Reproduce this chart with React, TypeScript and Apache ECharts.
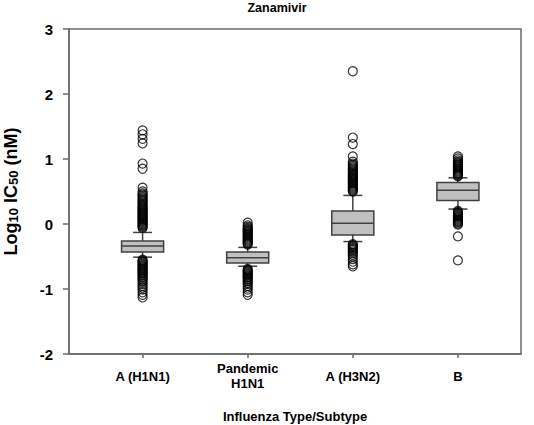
import React, { useEffect, useRef } from "react";
import * as echarts from "echarts";

// Categories (x positions 1..4)
const categories = ["A (H1N1)", "Pandemic\nH1N1", "A (H3N2)", "B"];
const categoryPositions = [1, 2, 3, 4];

// Box statistics: [lower whisker, Q1, median, Q3, upper whisker]
const boxH1N1 = [-0.51, -0.43, -0.34, -0.26, -0.13];
const boxPandemic = [-0.65, -0.6, -0.52, -0.43, -0.36];
const boxH3N2 = [-0.27, -0.17, 0.01, 0.2, 0.44];
const boxB = [0.23, 0.36, 0.52, 0.64, 0.71];

// Outliers per category (dense runs read as overlapping circles)
const outH1N1 = [
  1.44, 1.38, 1.31, 1.24, 0.93, 0.85, 0.56, 0.5, 0.47, 0.45, 0.43, 0.41, 0.39, 0.37, 0.35, 0.33,
  0.31, 0.29, 0.27, 0.255, 0.24, 0.225, 0.21, 0.195, 0.18, 0.165, 0.15, 0.135, 0.12, 0.105, 0.09,
  0.075, 0.06, 0.045, 0.03, 0.015, 0.0, -0.015, -0.03, -0.045, -0.06,
  -0.55, -0.565, -0.58, -0.595, -0.61, -0.625, -0.64, -0.655, -0.67, -0.685, -0.7, -0.715, -0.73,
  -0.745, -0.76, -0.775, -0.79, -0.81, -0.83, -0.85, -0.87, -0.89, -0.92, -0.95, -0.98, -1.01,
  -1.05, -1.09, -1.13,
];
const outPandemic = [
  0.02, -0.02, -0.04, -0.06, -0.075, -0.09, -0.105, -0.12, -0.135, -0.15, -0.165, -0.18, -0.195,
  -0.21, -0.225, -0.24, -0.255, -0.27, -0.285, -0.3, -0.315,
  -0.69, -0.705, -0.72, -0.735, -0.75, -0.765, -0.78, -0.795, -0.81, -0.825, -0.84, -0.86, -0.88,
  -0.9, -0.92, -0.95, -0.98, -1.01, -1.05, -1.09,
];
const outH3N2 = [
  2.35, 1.33, 1.23, 1.04, 0.96, 0.93, 0.91, 0.89, 0.87, 0.85, 0.83, 0.81, 0.79, 0.77, 0.755, 0.74,
  0.725, 0.71, 0.695, 0.68, 0.665, 0.65, 0.635, 0.62, 0.605, 0.59, 0.575, 0.56, 0.545, 0.53, 0.515,
  0.5,
  -0.31, -0.325, -0.34, -0.355, -0.37, -0.385, -0.4, -0.42, -0.44, -0.47, -0.5, -0.54, -0.58, -0.62,
  -0.65,
];
const outB = [
  1.04, 1.01, 0.98, 0.96, 0.945, 0.93, 0.915, 0.9, 0.885, 0.87, 0.855, 0.84, 0.825, 0.81, 0.795,
  0.78, 0.765, 0.75, 0.735,
  0.2, 0.185, 0.17, 0.155, 0.14, 0.125, 0.11, 0.095, 0.08, 0.065, 0.05, 0.035, 0.02, 0.005, -0.01,
  -0.19, -0.56,
];

const yTicks = [-2, -1, 0, 1, 2, 3];

const boxes = [boxH1N1, boxPandemic, boxH3N2, boxB];
const outliers = [outH1N1, outPandemic, outH3N2, outB];

const FONT = "'Liberation Sans', Arial, sans-serif";

export default function App() {
  const ref = useRef<HTMLDivElement>(null);
  useEffect(() => {
    if (!ref.current) return;
    const chart = echarts.init(ref.current, null, { renderer: "svg" });
    const boxData = boxes.map((b, i) => [categoryPositions[i], ...b]);
    const outData: number[][] = [];
    outliers.forEach((arr, i) => arr.forEach((v) => outData.push([categoryPositions[i], v])));
    const stroke = "#404040";
    const axisColor = "#6a6a6a";
    chart.setOption({
      animation: false,
      backgroundColor: "#fff",
      textStyle: { fontFamily: FONT },
      graphic: [
        {
          type: "text",
          x: 277,
          y: 1,
          style: {
            text: "Zanamivir",
            font: `bold 12.5px ${FONT}`,
            fill: "#000",
            textAlign: "center",
            textVerticalAlign: "top",
          },
        },
      ],
      grid: {
        left: 69,
        right: 13,
        top: 29,
        bottom: 71,
        containLabel: false,
        outerBoundsMode: "none",
        show: true,
        borderColor: axisColor,
        borderWidth: 1.5,
        backgroundColor: "transparent",
      },
      xAxis: {
        type: "value",
        min: 0.3,
        max: 4.6,
        name: "Influenza Type/Subtype",
        nameLocation: "middle",
        nameGap: 56,
        nameTextStyle: { fontFamily: FONT, fontWeight: "bold", fontSize: 13, color: "#000" },
        axisLine: { show: true, onZero: false, lineStyle: { color: axisColor, width: 1.5 } },
        axisTick: {
          show: true,
          length: 4,
          inside: false,
          customValues: categoryPositions,
          lineStyle: { color: axisColor, width: 1.5 },
        },
        axisLabel: {
          customValues: categoryPositions,
          formatter: (v: number) => categories[Math.round(v) - 1] ?? "",
          fontFamily: FONT,
          fontWeight: "bold",
          fontSize: 13,
          color: "#000",
          lineHeight: 15,
          verticalAlign: "middle",
          margin: 22,
        },
        splitLine: { show: false },
      },
      yAxis: {
        type: "value",
        min: -2,
        max: 3,
        interval: 1,
        name: "{a|Log}{s|10}{a| IC}{s|50}{a| (nM)}",
        nameLocation: "middle",
        nameRotate: 90,
        nameGap: 49,
        nameTextStyle: {
          rich: {
            a: {
              fontFamily: FONT,
              fontWeight: "bold",
              fontSize: 18,
              color: "#000",
              lineHeight: 18,
              verticalAlign: "middle",
            },
            s: {
              fontFamily: FONT,
              fontWeight: "bold",
              fontSize: 13,
              color: "#000",
              lineHeight: 10,
              verticalAlign: "bottom",
            },
          },
        },
        axisLine: { show: true, onZero: false, lineStyle: { color: axisColor, width: 1.5 } },
        axisTick: { show: true, length: 6, inside: false, lineStyle: { color: axisColor, width: 1.5 } },
        axisLabel: {
          fontFamily: FONT,
          fontWeight: "bold",
          fontSize: 15,
          color: "#000",
          margin: 16,
          formatter: (v: number) => (yTicks.includes(v) ? String(v) : ""),
        },
        splitLine: { show: false },
      },
      series: [
        {
          type: "custom",
          data: boxData,
          encode: { x: 0, y: [1, 2, 3, 4, 5] },
          renderItem: (params: any, api: any) => {
            const x = api.value(0);
            const lo = api.coord([x, api.value(1)]);
            const q1 = api.coord([x, api.value(2)]);
            const med = api.coord([x, api.value(3)]);
            const q3 = api.coord([x, api.value(4)]);
            const hi = api.coord([x, api.value(5)]);
            const left = api.coord([x - 0.2, 0])[0];
            const right = api.coord([x + 0.2, 0])[0];
            const cl = api.coord([x - 0.09, 0])[0];
            const cr = api.coord([x + 0.09, 0])[0];
            const cx = lo[0];
            const ls = { stroke, lineWidth: 1.5 };
            return {
              type: "group",
              children: [
                { type: "line", shape: { x1: cx, y1: q3[1], x2: cx, y2: hi[1] }, style: ls },
                { type: "line", shape: { x1: cx, y1: q1[1], x2: cx, y2: lo[1] }, style: ls },
                { type: "line", shape: { x1: cl, y1: hi[1], x2: cr, y2: hi[1] }, style: ls },
                { type: "line", shape: { x1: cl, y1: lo[1], x2: cr, y2: lo[1] }, style: ls },
                {
                  type: "rect",
                  shape: { x: left, y: q3[1], width: right - left, height: q1[1] - q3[1] },
                  style: { fill: "#c0c0c0", stroke, lineWidth: 1.5 },
                },
                { type: "line", shape: { x1: left, y1: med[1], x2: right, y2: med[1] }, style: ls },
              ],
            };
          },
          z: 2,
        },
        {
          type: "scatter",
          data: outData,
          symbol: "circle",
          symbolSize: 9,
          itemStyle: { color: "rgba(255,255,255,0)", borderColor: "#000", borderWidth: 1.2 },
          z: 3,
        },
      ],
    });
    return () => chart.dispose();
  }, []);
  return (
    <div
      ref={ref}
      style={{ position: "fixed", left: 0, top: 0, width: 534, height: 425, background: "#fff" }}
    />
  );
}
